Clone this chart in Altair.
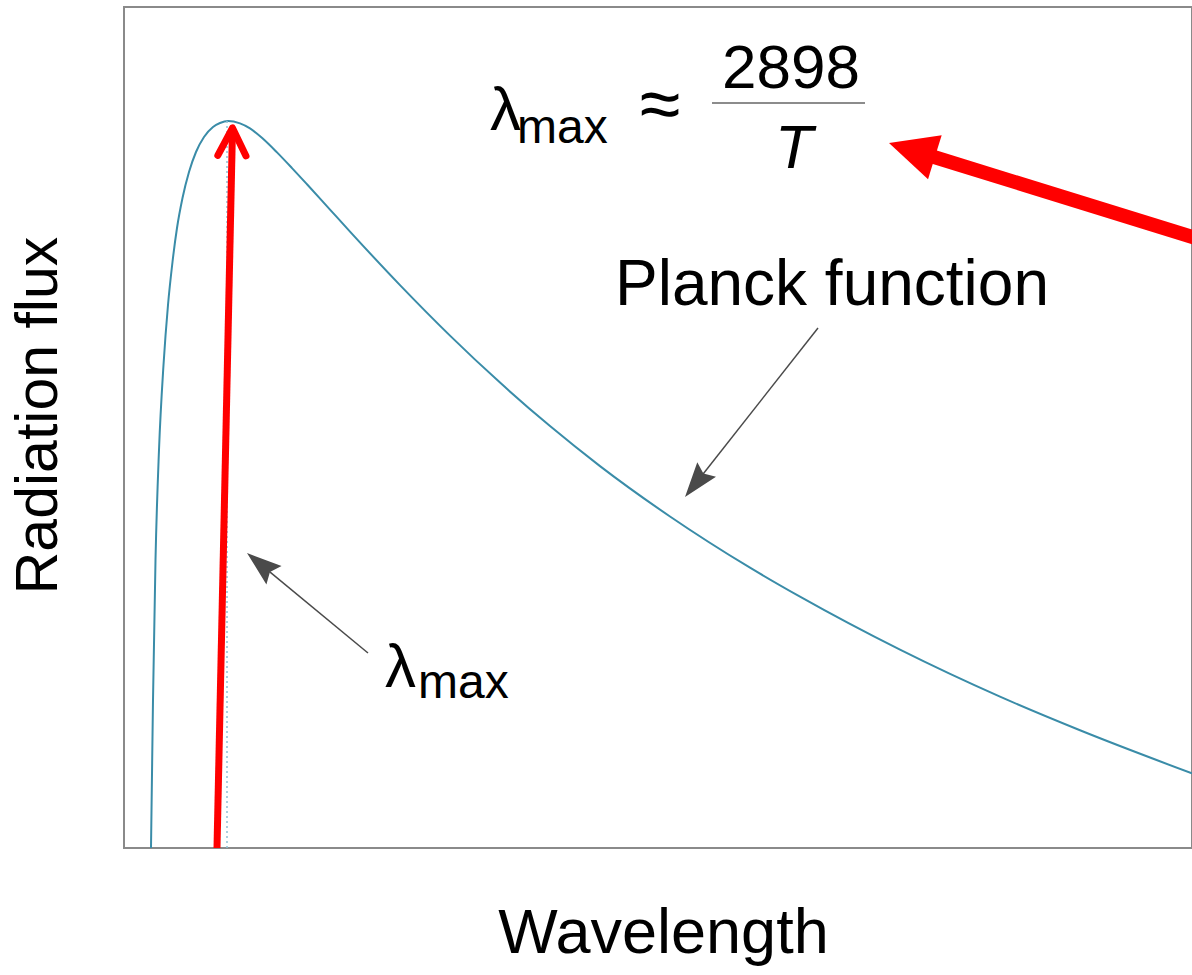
import math
import altair as alt
import pandas as pd

# ---------------------------------------------------------------- data
PX_PER_UNIT = 100.0          # same pixel scale on both axes (keeps angles true)
X_MAX = 10.68                # wavelength domain (arbitrary units)
Y_MAX = 8.41                 # flux domain (arbitrary units)

# Planck curve (arbitrary units)
wavelength = [0.27, 0.29, 0.315, 0.35, 0.395, 0.44, 0.485, 0.53, 0.585, 0.65, 0.72,
              0.80, 0.89, 0.96, 1.04, 1.16, 1.26, 1.39, 1.53, 1.68, 1.83, 2.06, 2.26,
              2.76, 3.26, 3.76, 4.26, 4.76, 5.46, 6.26, 6.76, 7.76, 8.76, 9.56, 10.68]
flux = [0.00, 1.48, 2.88, 3.98, 4.83, 5.43, 5.86, 6.20, 6.50, 6.76, 6.96,
        7.11, 7.21, 7.25, 7.27, 7.246, 7.196, 7.092, 6.956, 6.799, 6.637, 6.384, 6.164,
        5.629, 5.124, 4.654, 4.219, 3.819, 3.315, 2.803, 2.513, 1.983, 1.513, 1.177, 0.746]

peak_wl = 1.03
peak_flux = 7.27

# arrows: (tail, tip)
red_up = ((0.93, 0.0), (1.085, 7.20))
red_in = ((10.78, 6.08), (7.65, 7.05))
ptr_planck = ((6.94, 5.20), (5.61, 3.51))
ptr_lmax = ((2.44, 1.95), (1.23, 2.95))

# text annotations
left_texts = ["λ", "max", "λ", "max"]
left_x = [2.61, 2.94, 3.66, 3.93]
left_y = [1.61, 1.50, 7.18, 7.05]
left_size = [62, 48, 62, 48]

center_texts = ["Planck function", "2898", "≈"]
center_x = [7.08, 6.67, 5.36]
center_y = [5.43, 7.60, 7.19]
center_size = [64, 62, 74]

italic_texts = ["T"]
italic_x = [6.70]
italic_y = [6.80]

frac_bar = ((5.88, 7.45), (7.41, 7.45))

# ---------------------------------------------------------------- styles
CURVE = "#3a8ca8"
RED = "#ff0000"
DARK = "#4a4a4a"
FONT = "Liberation Sans"
RED_HEAD = "M0,-1L0.96,1L-0.96,1Z"
BLACK_HEAD = "M0,-1L0.68,1L0,0.7L-0.68,1Z"


def direction(tail, tip):
    dx, dy = tip[0] - tail[0], tip[1] - tail[1]
    n = math.hypot(dx, dy)
    return dx / n, dy / n


def angle(tail, tip):
    dx, dy = direction(tail, tip)
    return math.degrees(math.atan2(dx, dy)) % 360


def back(tip, u, dist_px):
    d = dist_px / PX_PER_UNIT
    return tip[0] - u[0] * d, tip[1] - u[1] * d


# shafts
rows = []
for (tail, tip), width, color, head_len, frac in [
    (red_up, 7, RED, 0, 0),
    (red_in, 14, RED, 48, 0.7),
    (ptr_planck, 1.5, DARK, 35, 0.8),
    (ptr_lmax, 1.5, DARK, 35, 0.8),
]:
    u = direction(tail, tip)
    end = back(tip, u, head_len * frac)
    rows.append(dict(x=tail[0], y=tail[1], x2=end[0], y2=end[1], w=width, c=color))
rows.append(dict(x=frac_bar[0][0], y=frac_bar[0][1], x2=frac_bar[1][0],
                 y2=frac_bar[1][1], w=1.5, c="#666666"))
shaft_df = pd.DataFrame(rows)

# filled heads
heads = []
for (tail, tip), shape, L, color in [
    (red_in, RED_HEAD, 48, RED),
    (ptr_planck, BLACK_HEAD, 35, DARK),
    (ptr_lmax, BLACK_HEAD, 35, DARK),
]:
    u = direction(tail, tip)
    cx, cy = back(tip, u, L / 2)
    heads.append(dict(x=cx, y=cy, shape=shape, size=L * L, angle=angle(tail, tip), c=color))
head_df = pd.DataFrame(heads)

# chevron head of the upward red arrow
tail, tip = red_up
u = direction(tail, tip)
chev = []
for i, a in enumerate([27, 0, -27]):
    if a == 0:
        chev.append(dict(x=tip[0], y=tip[1], o=i))
        continue
    r = math.radians(a)
    ru = (u[0] * math.cos(r) - u[1] * math.sin(r), u[0] * math.sin(r) + u[1] * math.cos(r))
    p = back(tip, ru, 31)
    chev.append(dict(x=p[0], y=p[1], o=i))
chev_df = pd.DataFrame(chev)

# ---------------------------------------------------------------- chart
xs = alt.Scale(domain=[0, X_MAX], nice=False, zero=False)
ys = alt.Scale(domain=[0, Y_MAX], nice=False, zero=False)

x_axis = alt.Axis(title="Wavelength", labels=False, ticks=False, domain=False, grid=False,
                  titleFont=FONT, titleFontSize=63, titleFontWeight="normal",
                  titleColor="black", titleX=539, titleY=104,
                  titleBaseline="alphabetic", titleAlign="center")
y_axis = alt.Axis(title="Radiation flux", labels=False, ticks=False, domain=False, grid=False,
                  titleFont=FONT, titleFontSize=59, titleFontWeight="normal",
                  titleColor="black", titleX=-68, titleY=408, titleAngle=270,
                  titleBaseline="alphabetic", titleAlign="center")

curve = alt.Chart(pd.DataFrame({"wl": wavelength, "flux": flux})).mark_line(
    color=CURVE, strokeWidth=2, interpolate="monotone"
).encode(x=alt.X("wl:Q", scale=xs, axis=x_axis), y=alt.Y("flux:Q", scale=ys, axis=y_axis))

dotted = alt.Chart(pd.DataFrame({"x": [peak_wl], "y": [0.0], "y2": [peak_flux]})).mark_rule(
    color="#8fc1d6", strokeWidth=1.5, strokeDash=[2, 3]
).encode(x=alt.X("x:Q", scale=xs), y=alt.Y("y:Q", scale=ys), y2="y2:Q")

shafts = alt.Chart(shaft_df).mark_rule(strokeCap="butt").encode(
    x=alt.X("x:Q", scale=xs), y=alt.Y("y:Q", scale=ys), x2="x2:Q", y2="y2:Q",
    strokeWidth=alt.StrokeWidth("w:Q", scale=None),
    color=alt.Color("c:N", scale=None),
)

head_marks = alt.Chart(head_df).mark_point(filled=True, opacity=1, strokeWidth=0).encode(
    x=alt.X("x:Q", scale=xs), y=alt.Y("y:Q", scale=ys),
    shape=alt.Shape("shape:N", scale=None),
    size=alt.Size("size:Q", scale=None),
    angle=alt.Angle("angle:Q", scale=None),
    color=alt.Color("c:N", scale=None),
)

chevron = alt.Chart(chev_df).mark_line(
    color=RED, strokeWidth=7, strokeCap="round", strokeJoin="round"
).encode(x=alt.X("x:Q", scale=xs), y=alt.Y("y:Q", scale=ys), order="o:Q")

left_txt = alt.Chart(pd.DataFrame({"x": left_x, "y": left_y, "t": left_texts, "s": left_size})).mark_text(
    align="left", baseline="alphabetic", font=FONT, color="black"
).encode(x=alt.X("x:Q", scale=xs), y=alt.Y("y:Q", scale=ys), text="t:N",
         size=alt.Size("s:Q", scale=None))

center_txt = alt.Chart(pd.DataFrame({"x": center_x, "y": center_y, "t": center_texts, "s": center_size})).mark_text(
    align="center", baseline="alphabetic", font=FONT, color="black"
).encode(x=alt.X("x:Q", scale=xs), y=alt.Y("y:Q", scale=ys), text="t:N",
         size=alt.Size("s:Q", scale=None))

italic_txt = alt.Chart(pd.DataFrame({"x": italic_x, "y": italic_y, "t": italic_texts})).mark_text(
    align="center", baseline="alphabetic", font=FONT, fontStyle="italic", fontSize=62, color="black"
).encode(x=alt.X("x:Q", scale=xs), y=alt.Y("y:Q", scale=ys), text="t:N")

chart = alt.layer(
    curve, dotted, shafts, chevron, head_marks, left_txt, center_txt, italic_txt
).properties(
    width=1068, height=841,
    autosize="none",
    padding={"left": 124, "top": 7, "right": 0, "bottom": 122},
    background="white",
).configure_view(stroke="#8a8a8a", strokeWidth=2)

chart.save("out.html", embed_options={"renderer": "svg", "actions": False})
